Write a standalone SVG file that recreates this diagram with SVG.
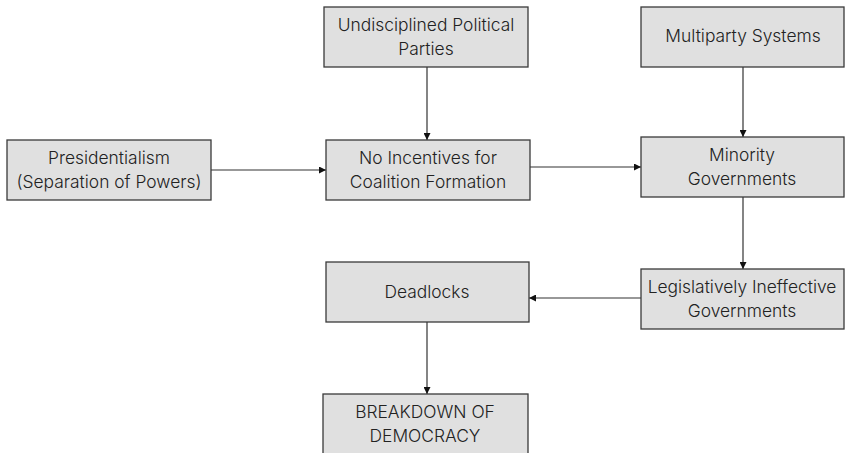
<svg xmlns="http://www.w3.org/2000/svg" width="845" height="453" viewBox="0 0 845 453">
<style>
.box{fill:#e0e0e0;stroke:#3a3a3a;stroke-width:1.3}
.t{font-family:Inter,"Liberation Sans",sans-serif;font-size:17.4px;font-weight:300;fill:#222;text-anchor:middle}
.c{stroke:#333;stroke-width:1.2;fill:none;marker-end:url(#ah)}
</style>
<defs>
<marker id="ah" viewBox="0 0 10 10" refX="10" refY="5" markerWidth="7" markerHeight="7" markerUnits="userSpaceOnUse" orient="auto">
<path d="M0,0 L10,5 L0,10 z" fill="#111"/>
</marker>
</defs>
<rect width="845" height="453" fill="#fff"/>
<g id="connectors">
<line class="c" x1="211" y1="170" x2="326" y2="170"/>
<line class="c" x1="427" y1="67" x2="427" y2="140"/>
<line class="c" x1="530" y1="167" x2="641" y2="167"/>
<line class="c" x1="743" y1="67" x2="743" y2="137"/>
<line class="c" x1="743" y1="197" x2="743" y2="269"/>
<line class="c" x1="641" y1="298" x2="529" y2="298"/>
<line class="c" x1="427" y1="322" x2="427" y2="394"/>
</g>
<g id="presidentialism">
<rect class="box" x="7" y="140" width="204" height="60"/>
<text class="t" x="109" y="164">Presidentialism</text>
<text class="t" x="109" y="188">(Separation of Powers)</text>
</g>
<g id="undisciplined">
<rect class="box" x="324" y="7" width="204" height="60"/>
<text class="t" x="426" y="31">Undisciplined Political</text>
<text class="t" x="426" y="55">Parties</text>
</g>
<g id="noincentives">
<rect class="box" x="326" y="140" width="204" height="60"/>
<text class="t" x="428" y="164">No Incentives for</text>
<text class="t" x="428" y="188">Coalition Formation</text>
</g>
<g id="multiparty">
<rect class="box" x="641" y="7" width="203" height="60"/>
<text class="t" x="743" y="42">Multiparty Systems</text>
</g>
<g id="minority">
<rect class="box" x="641" y="137" width="203" height="60"/>
<text class="t" x="742" y="161">Minority</text>
<text class="t" x="742" y="185">Governments</text>
</g>
<g id="legislatively">
<rect class="box" x="641" y="269" width="203" height="60"/>
<text class="t" x="742" y="293">Legislatively Ineffective</text>
<text class="t" x="742" y="317">Governments</text>
</g>
<g id="deadlocks">
<rect class="box" x="326" y="262" width="203" height="60"/>
<text class="t" x="427" y="298">Deadlocks</text>
</g>
<g id="breakdown">
<rect class="box" x="323" y="394" width="205" height="64"/>
<text class="t" x="425" y="418">BREAKDOWN OF</text>
<text class="t" x="425" y="442">DEMOCRACY</text>
</g>
</svg>
